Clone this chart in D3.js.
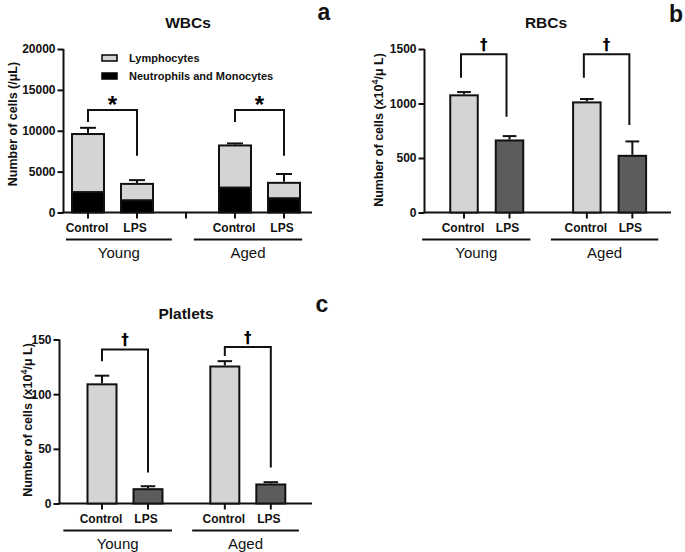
<!DOCTYPE html>
<html><head><meta charset="utf-8">
<script src="https://cdn.jsdelivr.net/npm/d3@7"></script>
<style>
body{margin:0;background:#fff;}
svg{display:block;font-family:"Liberation Sans",Arial,sans-serif;}
</style></head>
<body><svg id="chart" width="685" height="552"></svg>
<script>
// ---- data ----
const groups = ["Young", "Aged"];
const treatments = ["Control", "LPS"];
// WBCs (/uL): stacked components per bar [Young Control, Young LPS, Aged Control, Aged LPS]
const wbcNeutroMono = [2500, 1500, 3050, 1750];
const wbcLymphocytes = [7100, 2000, 5150, 1880];
const wbcError = [760, 460, 250, 1080];
const wbcTicks = [0, 5000, 10000, 15000, 20000];
const wbcLegend = ["Lymphocytes", "Neutrophils and Monocytes"];
// RBCs (x10^4/uL)
const rbcMean = [1075, 661, 1010, 520];
const rbcError = [30, 40, 31, 132];
const rbcTicks = [0, 500, 1000, 1500];
// Platelets (x10^4/uL)
const pltMean = [109, 13.1, 125.3, 17.4];
const pltError = [7.9, 2.7, 4.9, 2.1];
const pltTicks = [0, 50, 100, 150];
// significance brackets per group: [left leg bottom, top, right leg bottom]
const wbcBrackets = [[11060, 12530, 6930], [11060, 12530, 6930]];
const rbcBrackets = [[1236, 1451, 878], [1236, 1451, 802]];
const pltBrackets = [[130.2, 140.9, 28.4], [135, 143.2, 32.9]];

const LIGHT = "#d4d4d4", DARK = "#5c5c5c";
const svg = d3.select("#chart");
svg.append("rect").attr("width",685).attr("height",552).attr("fill","#fff");

function panel(cfg){
  const g = svg.append("g");
  const y = d3.scaleLinear().domain([0, cfg.ymax]).range([cfg.y0, cfg.y1]);
  const x = d3.scaleLinear().domain([0,1]).range([cfg.c0, cfg.c0 + cfg.step]);
  const pos = cfg.pos;
  // y axis
  const yAx = g.append("g").attr("transform",`translate(${cfg.ax},0)`)
    .call(d3.axisLeft(y).tickValues(cfg.ticks).tickSize(6).tickPadding(2).tickFormat(d3.format("d")));
  yAx.select(".domain").attr("stroke","#111").attr("stroke-width",2).attr("d",`M0,${cfg.y1}V${cfg.y0}`);
  yAx.selectAll(".tick line").attr("stroke","#111").attr("stroke-width",2);
  yAx.selectAll(".tick text").attr("fill","#111").style("font-size","12px").style("font-weight","bold")
     .style("font-family","'Liberation Sans',Arial,sans-serif");
  // x axis line
  g.append("line").attr("x1",cfg.ax-1).attr("x2",cfg.axEnd).attr("y1",cfg.y0).attr("y2",cfg.y0)
    .attr("stroke","#111").attr("stroke-width",2);
  const tickPos = cfg.gapTick ? pos.concat([cfg.gapTick]) : pos;
  g.selectAll(".xt").data(tickPos).enter().append("line")
    .attr("x1",d=>x(d)).attr("x2",d=>x(d)).attr("y1",cfg.y0).attr("y2",cfg.y0+6)
    .attr("stroke","#111").attr("stroke-width",2);
  // bars
  const bw = cfg.bw;
  cfg.stacks.forEach(s=>{
    g.selectAll(null).data(s.vals).enter().append("rect")
      .attr("x",(d,i)=>x(pos[i])-bw/2).attr("width",bw)
      .attr("y",(d,i)=>y(s.base[i]+d)).attr("height",(d,i)=>y(s.base[i])-y(s.base[i]+d))
      .attr("fill",(d,i)=>s.color(i)).attr("stroke","#111").attr("stroke-width",2);
  });
  // error bars (upward only)
  cfg.totals.forEach((t,i)=>{
    const cx = x(pos[i]);
    g.append("line").attr("x1",cx).attr("x2",cx).attr("y1",y(t)-1).attr("y2",y(t+cfg.err[i]))
      .attr("stroke","#111").attr("stroke-width",2);
    g.append("line").attr("x1",cx-bw/4).attr("x2",cx+bw/4).attr("y1",y(t+cfg.err[i])).attr("y2",y(t+cfg.err[i]))
      .attr("stroke","#111").attr("stroke-width",2);
  });
  // brackets
  cfg.brackets.forEach((b,gi)=>{
    const xl = x(pos[gi*2]) - cfg.brOff, xr = x(pos[gi*2+1]) - cfg.brOff;
    g.append("path").attr("d",`M${xl},${y(b[0])}V${y(b[1])}H${xr}V${y(b[2])}`)
      .attr("fill","none").attr("stroke","#111").attr("stroke-width",2);
    g.append("text").attr("x",(xl+xr)/2).attr("y",y(b[1]) + cfg.markDy).attr("text-anchor","middle")
      .style("font-family",cfg.markFont).style("font-size",cfg.markSize+"px").style("font-weight","bold")
      .style("fill","#000").text(cfg.mark);
  });
  // category labels
  treatments.concat(treatments).forEach((t,i)=>{
    g.append("text").attr("x",x(pos[i]) + (i%2? -2 : -1)).attr("y",cfg.y0+19).attr("text-anchor","middle")
      .style("font-size","12px").style("font-weight","bold").attr("fill","#111").text(t);
  });
  groups.forEach((gr,i)=>{
    const [a,b] = cfg.under[i];
    g.append("line").attr("x1",x(a)).attr("x2",x(b)).attr("y1",cfg.y0+27).attr("y2",cfg.y0+27)
      .attr("stroke","#111").attr("stroke-width",2);
    g.append("text").attr("x",(x(a)+x(b))/2).attr("y",cfg.y0+45).attr("text-anchor","middle")
      .style("font-size","15px").attr("fill","#111").text(gr);
  });
  // title
  g.append("text").attr("x",cfg.titleX).attr("y",cfg.titleY).attr("text-anchor","middle")
    .style("font-size","15.5px").style("font-weight","bold").attr("fill","#111").text(cfg.title);
  g.append("text").attr("x",cfg.letterX).attr("y",cfg.letterY).attr("text-anchor","middle")
    .style("font-size","23px").style("font-weight","bold").attr("fill","#111").text(cfg.letter);
  // y title
  const yt = g.append("text").attr("transform",`translate(${cfg.ytX},${cfg.ytY}) rotate(-90)`)
    .attr("text-anchor","middle").style("font-size","12.5px").style("font-weight","bold").attr("fill","#111");
  cfg.ytitle(yt);
  return {g,x,y};
}

function unitTitle(t){
  t.append("tspan").text("Number of cells (x10");
  t.append("tspan").attr("dy",-5).style("font-size","9px").text("4");
  t.append("tspan").attr("dy",5).text("/μ L)");
}

// Panel a: WBCs
const totalsA = wbcNeutroMono.map((d,i)=>d+wbcLymphocytes[i]);
const pa = panel({
  ymax:20000, y0:212.5, y1:49, ax:63.5, axEnd:312, c0:88, step:49, pos:[0,1,3,4], gapTick:2, bw:32,
  ticks:wbcTicks,
  stacks:[
    {vals:wbcNeutroMono, base:[0,0,0,0], color:()=>"#000"},
    {vals:wbcLymphocytes, base:wbcNeutroMono, color:()=>LIGHT}
  ],
  totals:totalsA, err:wbcError, brackets:wbcBrackets, brOff:0, mark:"*", markSize:24, markDy:3,
  markFont:"'Liberation Sans',Arial,sans-serif",
  under:[[-0.45,1.71],[2.16,4.37]],
  title:"WBCs", titleX:188, titleY:28, letter:"a", letterX:324, letterY:20,
  ytX:17, ytY:124, ytitle:t=>t.text("Number of cells (/μL)")
});
// legend
const leg = pa.g.append("g");
wbcLegend.forEach((l,i)=>{
  const yy = 58 + i*18;
  leg.append("rect").attr("x",102).attr("y",yy-3).attr("width",15).attr("height",6)
    .attr("fill", i===0 ? LIGHT : "#000").attr("stroke","#000").attr("stroke-width",1.5);
  leg.append("text").attr("x",129).attr("y",yy+4).style("font-size","11px").style("font-weight","bold")
    .attr("fill","#111").text(l);
});

// Panel b: RBCs
panel({
  ymax:1500, y0:212.5, y1:49, ax:424.5, axEnd:671, c0:464, step:45.5, pos:[0,1,2.7,3.7], bw:27.5,
  ticks:rbcTicks,
  stacks:[{vals:rbcMean, base:[0,0,0,0], color:i=>i%2?DARK:LIGHT}],
  totals:rbcMean, err:rbcError, brackets:rbcBrackets, brOff:3, mark:"†", markSize:15, markDy:-4,
  markFont:"'DejaVu Sans',sans-serif",
  under:[[-0.92,1.46],[1.91,4.27]],
  title:"RBCs", titleX:546, titleY:28, letter:"b", letterX:676, letterY:22,
  ytX:383, ytY:130, ytitle:unitTitle
});

// Panel c: Platelets
panel({
  ymax:150, y0:503.5, y1:339.5, ax:59.5, axEnd:312, c0:102, step:46, pos:[0,1,2.67,3.67], bw:29,
  ticks:pltTicks,
  stacks:[{vals:pltMean, base:[0,0,0,0], color:i=>i%2?DARK:LIGHT}],
  totals:pltMean, err:pltError, brackets:pltBrackets, brOff:0, mark:"†", markSize:15, markDy:-4,
  markFont:"'DejaVu Sans',sans-serif",
  under:[[-0.84,1.52],[1.96,4.28]],
  title:"Platlets", titleX:186, titleY:319, letter:"c", letterX:322, letterY:312,
  ytX:32, ytY:420, ytitle:unitTitle
});
</script></body></html>
